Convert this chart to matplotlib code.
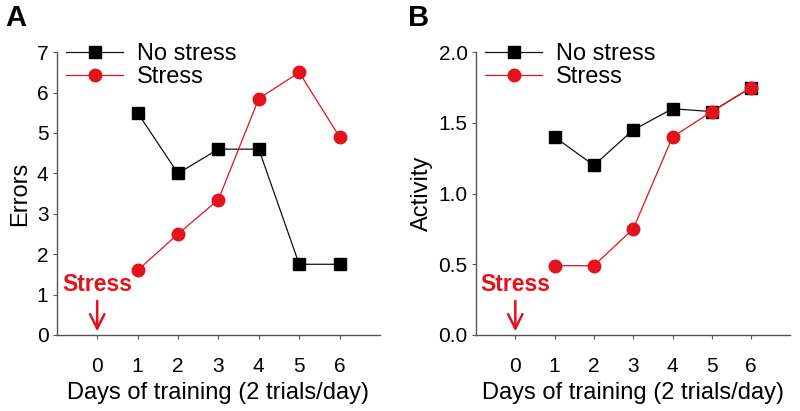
import matplotlib
matplotlib.use("Agg")
import matplotlib.pyplot as plt

plt.rcParams['font.family'] = ['Liberation Sans', 'DejaVu Sans']

days = [1, 2, 3, 4, 5, 6]
xticks = [0, 1, 2, 3, 4, 5, 6]

errors_no_stress = [5.5, 4.0, 4.6, 4.6, 1.75, 1.75]
errors_stress = [1.6, 2.5, 3.35, 5.85, 6.5, 4.9]

activity_no_stress = [1.4, 1.2, 1.45, 1.6, 1.58, 1.75]
activity_stress = [0.49, 0.49, 0.75, 1.4, 1.58, 1.75]

RED = '#e3121b'

fig = plt.figure(figsize=(8, 4.11), dpi=100)
axA = fig.add_axes([0.071, 0.185, 0.404, 0.688])
axB = fig.add_axes([0.595, 0.185, 0.393, 0.688])


def draw(ax, no_stress, stress, ymax, yticks, ylabel, letter, lx):
    ax.plot(days, no_stress, color='#111111', lw=0.9, marker='s', ms=8,
            mfc='black', mec='black', label='No stress', zorder=2)
    ax.plot(days, stress, color=RED, lw=0.9, marker='o', ms=9,
            mfc=RED, mec=RED, label='Stress', zorder=3)
    ax.set_xlim(-1, 7)
    ax.set_ylim(0, ymax)
    ax.set_xticks(xticks)
    ax.set_yticks(yticks)
    if ymax < 3:
        ax.set_yticklabels([f'{v:.1f}' for v in yticks])
    ax.spines['top'].set_visible(False)
    ax.spines['right'].set_visible(False)
    for s in ('left', 'bottom'):
        ax.spines[s].set_color('#555555')
        ax.spines[s].set_linewidth(1.0)
    ax.tick_params(axis='x', direction='out', length=3, pad=13, labelsize=15, color='#555555')
    ax.tick_params(axis='y', direction='out', length=3, pad=3, labelsize=15, color='#555555')
    ax.set_xlabel('Days of training (2 trials/day)', fontsize=17, labelpad=4)
    ax.set_ylabel(ylabel, fontsize=17, labelpad=4)
    ax.legend(loc='upper left', bbox_to_anchor=(0.0, 1.065), frameon=False,
              fontsize=17, handlelength=2.4, handletextpad=0.6, labelspacing=0.05,
              borderaxespad=0.0)
    ax.text(0, ymax * 0.138, 'Stress', color=RED, fontsize=16.5, fontweight='bold',
            ha='center', va='bottom', transform=ax.transData)
    ax.annotate('', xy=(0, ymax * 0.003), xytext=(0, ymax * 0.13),
                arrowprops=dict(arrowstyle='->', color=RED, lw=1.8,
                                mutation_scale=26))
    fig.text(lx, 0.955, letter, fontsize=21, fontweight='bold', va='center')


draw(axA, errors_no_stress, errors_stress, 7, list(range(8)), 'Errors', 'A', 0.006)
draw(axB, activity_no_stress, activity_stress, 2.0, [0.0, 0.5, 1.0, 1.5, 2.0], 'Activity', 'B', 0.510)

fig.savefig('out.png', dpi=100)
